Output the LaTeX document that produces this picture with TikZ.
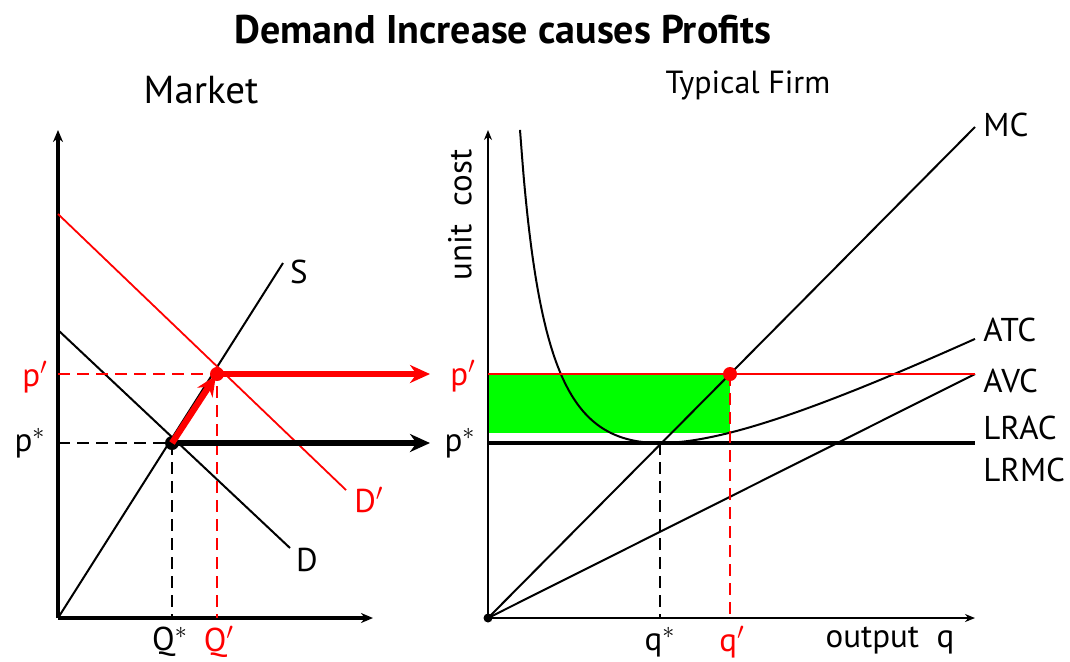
\documentclass[tikz,border=0pt]{standalone}
\usepackage{fontspec}
\setmainfont{PT Sans}
\usetikzlibrary{arrows.meta}
\definecolor{profit}{RGB}{0,255,0}
\begin{document}
\begin{tikzpicture}[x=0.5pt,y=-0.5pt,
  lbl/.style={font=\fontsize{16.5}{18}\selectfont, inner sep=0pt},
  rlbl/.style={lbl, text=red},
  axthick/.style={line width=1.6pt, -{Stealth[length=6pt,width=5pt]}},
  axthin/.style={line width=0.8pt, -{Stealth[length=5pt,width=4pt]}},
  curve/.style={line width=1pt},
  rcurve/.style={line width=0.9pt, red},
  guide/.style={line width=0.9pt, dash pattern=on 6pt off 3.5pt},
  bigarrow/.style={line width=2.6pt, -{Stealth[length=10pt,width=9pt]}},
  dot/.style={circle, fill, inner sep=0pt, minimum size=7pt}]
\useasboundingbox (0,0) rectangle (1070,661);

% ---------- titles
\node[font=\bfseries\fontsize{20}{22}\selectfont] (title) at (503,30) {Demand Increase causes Profits};
\node[font=\fontsize{19.5}{22}\selectfont] (market) at (201,90) {Market};
\node[font=\fontsize{16}{18}\selectfont] (firm) at (748,85) {Typical Firm};

% ---------- market panel
\coordinate (O) at (58,618);
\coordinate (Ytop) at (58,130);
\coordinate (Xend) at (373,618);
\draw[axthick] (O) -- (Ytop);
\draw[axthick] (O) -- (Xend);

\coordinate (Send) at (283,263);
\coordinate (Dstart) at (58,330);
\coordinate (Dend) at (290,548);
\coordinate (D2start) at (58,214);
\coordinate (D2end) at (346,490);
\draw[curve] (O) -- (Send);
\draw[curve] (Dstart) -- (Dend);
\draw[rcurve] (D2start) -- (D2end);

\node[dot] (E1) at (172,443) {};
\node[dot, red] (E2) at (217,374) {};

\coordinate (pstarL) at (58,443);
\coordinate (pprimeL) at (58,374);
\coordinate (QstarB) at (172,618);
\coordinate (QprimeB) at (217,618);
\draw[guide] (pstarL) -- (E1.center) -- (QstarB);
\draw[guide, red] (pprimeL) -- (E2.center) -- (QprimeB);

\coordinate (pstarArr) at (430,443);
\coordinate (pprimeArr) at (430,374);
\draw[bigarrow] (E1.center) -- (pstarArr);
\draw[bigarrow, red] (E2.center) -- (pprimeArr);
\draw[bigarrow, red, line width=3.2pt, shorten >=1pt] (E1.center) -- (E2.center);

\node[lbl] (S) at (299,272) {S};
\node[lbl] (D) at (307,560) {D};
\node[rlbl] (D2) at (369,500) {D$'$};
\node[rlbl] (ppL) at (35,377) {p$'$};
\node[lbl] (psL) at (30,443) {p$^*$};
\node[rlbl] (ppR) at (463,376) {p$'$};
\node[lbl] (psR) at (460,443) {p$^*$};
\node[lbl] (Qs) at (170,642) {Q$^*$};
\node[rlbl] (Qp) at (219,642) {Q$'$};

% ---------- firm panel
\coordinate (o) at (488,618);
\coordinate (ytop) at (488,130);
\coordinate (xend) at (975,618);
\fill[profit] (488,374) rectangle (730,433);
\draw[axthin] (o) -- (ytop);
\draw[axthin] (o) -- (xend);

\coordinate (MCend) at (975,127);
\coordinate (AVCend) at (975,374);
\draw[curve] (o) -- (MCend);
\draw[curve] (o) -- (AVCend);
\draw[curve, domain=32:487, samples=120, smooth, variable=\u]
  plot ({488+\u}, {618-(15120/\u + 0.511*\u - 0.8)});

\coordinate (pline0) at (488,374);
\coordinate (pline1) at (975,374);
\draw[rcurve] (pline0) -- (pline1);
\coordinate (lr0) at (488,443);
\coordinate (lr1) at (975,443);
\draw[line width=2.2pt] (lr0) -- (lr1);

\coordinate (qs) at (660,443);
\coordinate (qsB) at (660,618);
\node[dot, red] (e2) at (730,374) {};
\coordinate (qpB) at (730,618);
\draw[guide] (qs) -- (qsB);
\draw[guide, red] (e2.center) -- (qpB);
\node[dot, minimum size=4.5pt] (odot) at (o) {};

\node[lbl, anchor=west] (MC) at (983,125) {MC};
\node[lbl, anchor=west] (ATC) at (983,330) {ATC};
\node[lbl, anchor=west] (AVC) at (983,381) {AVC};
\node[lbl, anchor=west] (LRAC) at (983,428) {LRAC};
\node[lbl, anchor=west] (LRMC) at (983,470) {LRMC};
\node[lbl, rotate=90] (ucost) at (460,215) {unit\ \ cost};
\node[lbl] (qstar) at (660,642) {q$^*$};
\node[rlbl] (qprime) at (732,642) {q$'$};
\node[lbl] (outq) at (890,641) {output\ \ q};
\end{tikzpicture}
\end{document}
